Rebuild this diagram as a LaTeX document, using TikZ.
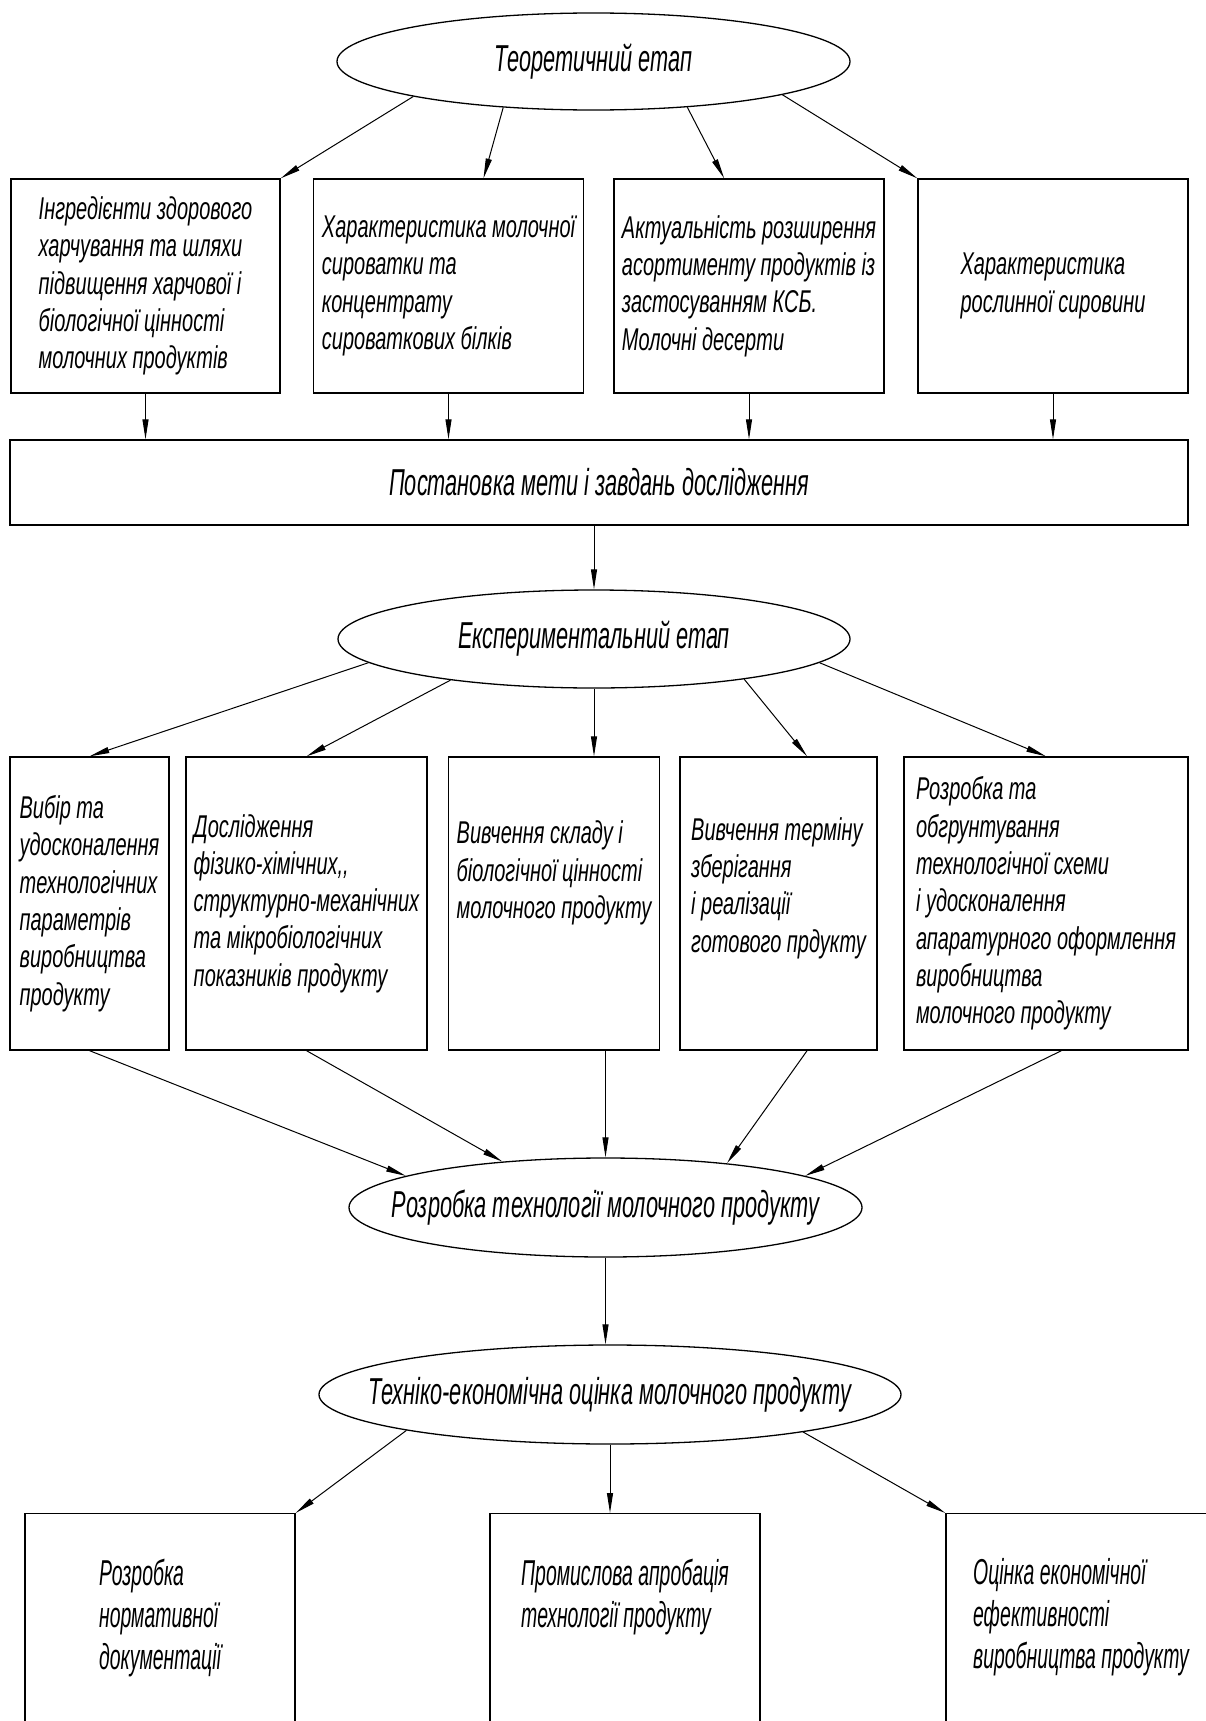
\documentclass[tikz,border=0pt]{standalone}
\usepackage{fontspec}
\usepackage{tikz}
\usetikzlibrary{arrows.meta,shapes.geometric}
\newfontfamily\gostA{Liberation Sans}[FakeStretch=0.635]
\newfontfamily\gostB{Liberation Sans}[FakeStretch=0.58]
\newfontfamily\gostC{Liberation Sans}[FakeStretch=0.54]
\newcommand{\blokfont}{\gostA\itshape\fontsize{31.5}{37.3}\selectfont}
\newcommand{\etapfont}{\gostB\itshape\fontsize{37.5}{44}\selectfont}
\newcommand{\nizfont}{\gostC\itshape\fontsize{36}{42}\selectfont}

\begin{document}
\begin{tikzpicture}[x=1pt,y=-1pt,>={Triangle[length=20pt,width=6pt]},
  blok/.style={rectangle,draw=black,line width=1.3pt,inner sep=0pt,align=left,font=\blokfont},
  etap/.style={ellipse,draw=black,line width=1.3pt,inner ysep=0pt,inner xsep=-100pt,font=\etapfont},
  niz/.style={blok,anchor=north,font=\nizfont,text depth=400pt,inner ysep=45pt},
  strilka/.style={->,draw=black,line width=1pt}]
\useasboundingbox (0,0) rectangle (1206,1721);
\clip (0,0) rectangle (1206,1721);
\node[etap,minimum width=513pt,minimum height=97pt] (e1) at (593.5,61.5) {Теоретичний етап};
\node[blok,minimum width=269pt,minimum height=214pt] (b1) at (145.5,286) {Інгредієнти здорового\\харчування та шляхи\\підвищення харчової і\\біологічної цінності\\молочних продуктів};
\node[blok,minimum width=270pt,minimum height=214pt] (b2) at (448.5,286) {Характеристика молочної\\сироватки та\\концентрату\\сироваткових білків};
\node[blok,minimum width=270pt,minimum height=214pt] (b3) at (749,286) {Актуальність розширення\\асортименту продуктів із\\застосуванням КСБ.\\Молочні десерти};
\node[blok,minimum width=270pt,minimum height=214pt] (b4) at (1053,286) {Характеристика\\рослинної сировини};
\node[blok,minimum width=1178pt,minimum height=85pt,font=\etapfont] (w) at (599,482.5) {Постановка мети і завдань дослідження};
\node[etap,minimum width=512pt,minimum height=98pt] (e2) at (594,639) {Експериментальний етап};
\node[blok,minimum width=159pt,minimum height=293pt] (m1) at (89.5,903.5) {Вибір та\\удосконалення\\технологічних\\параметрів\\виробництва\\продукту};
\node[blok,minimum width=241pt,minimum height=293pt] (m2) at (306.5,903.5) {Дослідження\\фізико-хімічних,,\\структурно-механічних\\та мікробіологічних\\показників продукту};
\node[blok,minimum width=211pt,minimum height=293pt] (m3) at (554,903.5) {Вивчення складу і\\біологічної цінності\\молочного продукту\\[30pt]\mbox{}};
\node[blok,minimum width=197pt,minimum height=293pt] (m4) at (778.5,903.5) {Вивчення терміну\\зберігання\\і реалізації\\готового прдукту\\\mbox{}};
\node[blok,minimum width=284pt,minimum height=293pt] (m5) at (1046,903.5) {Розробка та\\обгрунтування\\технологічної схеми\\і удосконалення\\апаратурного оформлення\\виробництва\\молочного продукту};
\node[etap,minimum width=513pt,minimum height=99pt] (e3) at (605.5,1207.5) {Розробка технології молочного продукту};
\node[etap,minimum width=582pt,minimum height=99pt] (e4) at (610,1394.5) {Техніко-економічна оцінка молочного продукту};
\node[niz,minimum width=270pt] (k1) at (160,1513) {Розробка\\нормативної\\документації};
\node[niz,minimum width=270pt] (k2) at (625,1513) {Промислова апробація\\технології продукту};
\node[niz,minimum width=270pt] (k3) at (1081,1513) {Оцінка економічної\\ефективності\\виробництва продукту};
\draw[strilka] (e1.191) -- (b1.north east);
\draw[strilka] (e1.207) -- (b2.72);
\draw[strilka] (e1.334) -- (b3.103);
\draw[strilka] (e1.350) -- (b4.north west);
\foreach \b in {b1,b2,b3,b4}
  \draw[strilka] (\b.south) -- (\b.south |- w.north);
\draw[strilka] (e2.north |- w.south) -- (e2.north);
\draw[strilka] (e2.186) -- (m1.north);
\draw[strilka] (e2.196) -- (m2.north);
\draw[strilka] (e2.south) -- (e2.south |- m3.north);
\draw[strilka] (e2.345) -- (m4.79);
\draw[strilka] (e2.354) -- (m5.north);
\draw[strilka] (m1.south) -- (e3.171);
\draw[strilka] (m2.south) -- (e3.156);
\draw[strilka] (e3.north |- m3.south) -- (e3.north);
\draw[strilka] (m4.281) -- (e3.20);
\draw[strilka] (m5.276) -- (e3.9);
\draw[strilka] (e3.south) -- (e3.south |- e4.north);
\draw[strilka] (e4.190) -- (k1.north east);
\draw[strilka] (e4.south) -- (e4.south |- k2.north);
\draw[strilka] (e4.349) -- (k3.north west);
\end{tikzpicture}
\end{document}
